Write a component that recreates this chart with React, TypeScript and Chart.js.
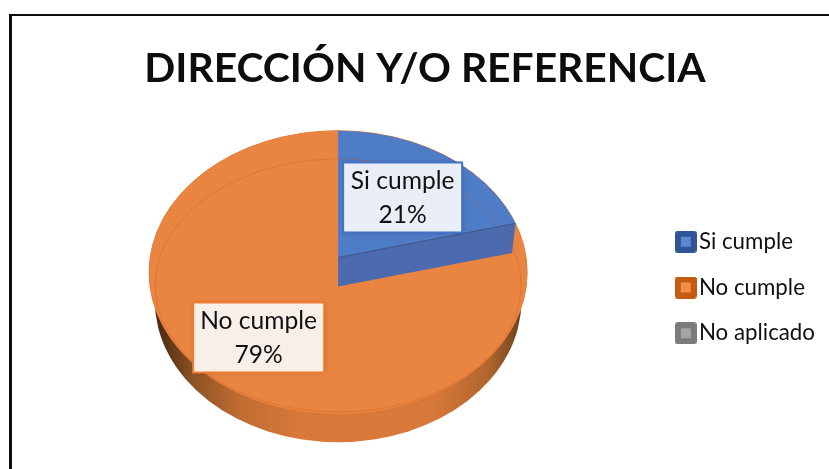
import React, { useEffect, useRef } from "react";
import { Chart, registerables } from "chart.js";

Chart.register(...registerables);

const TITLE = "DIRECCIÓN Y/O REFERENCIA";
const categories = ["Si cumple", "No cumple", "No aplicado"];
const values = [21, 79, 0];
const faceColors = ["#4f7cc7", "#ea8441", "#a5a5a5"];
const legendBorders = ["#2f5597", "#c55a11", "#7b7b7b"];
const legendFills = ["#5b86d0", "#f08f4a", "#a5a5a5"];
const FONT = "Lato, Carlito, 'Open Sans', sans-serif";

const squash = 0.75;

function legendMarker(border: string, fill: string) {
  const c = document.createElement("canvas");
  c.width = 22;
  c.height = 22;
  const g = c.getContext("2d")!;
  g.fillStyle = border;
  g.beginPath();
  g.roundRect(0, 0, 22, 22, 3);
  g.fill();
  g.fillStyle = fill;
  g.fillRect(6, 6, 10, 10);
  return c;
}

const pie3d = {
  id: "pie3d",
  afterLayout(chart: any) {
    chart.titleBlock.left += 4.5;
    chart.titleBlock.right += 4.5;
    chart.legend.top += 65;
    chart.legend.bottom += 65;
  },
  beforeDatasetsDraw(chart: any) {
    const ctx: CanvasRenderingContext2D = chart.ctx;
    const arcs = chart.getDatasetMeta(0).data;
    const blue = arcs[0];
    const orange = arcs[1];
    const cx = blue.x;
    const cy = blue.y;
    const r = blue.outerRadius;
    const b = r * squash;

    // extruded side
    const grad = ctx.createLinearGradient(cx - r, 0, cx + r, 0);
    grad.addColorStop(0, "#3f2410");
    grad.addColorStop(0.05, "#5e3517");
    grad.addColorStop(0.12, "#8f5325");
    grad.addColorStop(0.24, "#c06d31");
    grad.addColorStop(0.4, "#d8793a");
    grad.addColorStop(0.75, "#d8793a");
    grad.addColorStop(0.9, "#b0652d");
    grad.addColorStop(0.97, "#7a481f");
    grad.addColorStop(1, "#5e3517");
    ctx.save();
    ctx.fillStyle = grad;
    ctx.beginPath();
    ctx.ellipse(cx, cy + 28, r * 0.97, b, 0, 0, Math.PI * 2);
    ctx.fill();
    ctx.restore();

    // top plate
    ctx.save();
    ctx.fillStyle = faceColors[1];
    ctx.strokeStyle = "#d87531";
    ctx.lineWidth = 1;
    ctx.beginPath();
    ctx.ellipse(cx, cy, r, b, 0, 0, Math.PI * 2);
    ctx.fill();
    ctx.stroke();
    ctx.restore();

    const drawArc = (arc: any, dy: number) => {
      ctx.save();
      ctx.translate(cx, cy + dy);
      ctx.scale(1, squash);
      ctx.translate(-cx, -cy);
      arc.draw(ctx);
      ctx.restore();
    };

    drawArc(orange, 0);

    // raised wedge: side wall then face, both follow the arc's end angle
    const end = blue.endAngle;
    const dx = Math.cos(end);
    const dyy = Math.sin(end) * squash;
    const faceY = cy - 15;
    const sideY = cy + 14;
    ctx.save();
    ctx.beginPath();
    ctx.ellipse(cx, cy, r, b, 0, 0, Math.PI * 2);
    ctx.clip();
    ctx.fillStyle = "#4b6bae";
    ctx.beginPath();
    ctx.moveTo(cx, faceY);
    ctx.lineTo(cx + dx * r * 0.97, faceY + dyy * r * 0.97);
    ctx.lineTo(cx + dx * r * 0.95, sideY + dyy * r * 0.95);
    ctx.lineTo(cx, sideY);
    ctx.closePath();
    ctx.fill();
    drawArc(blue, faceY - cy);
    ctx.strokeStyle = "rgba(50,70,120,.7)";
    ctx.lineWidth = 1;
    ctx.beginPath();
    ctx.moveTo(cx, faceY);
    ctx.lineTo(cx + dx * r * 0.97, faceY + dyy * r * 0.97);
    ctx.stroke();
    ctx.restore();

    // faint bevel ring
    ctx.save();
    ctx.strokeStyle = "rgba(190,85,20,.3)";
    ctx.lineWidth = 1;
    ctx.beginPath();
    ctx.ellipse(cx, cy + 13, r * 0.968, b * 0.893, 0, 0, Math.PI * 2);
    ctx.stroke();
    ctx.restore();
    return false;
  },
  afterDraw(chart: any) {
    const ctx: CanvasRenderingContext2D = chart.ctx;
    const arcs = chart.getDatasetMeta(0).data;
    const total = values.reduce((a, v) => a + v, 0);
    const layouts = [
      { dx: 64.5, dy: -75, w: 119, h: 70 },
      { dx: -79.5, dy: 65, w: 131, h: 70 },
    ];
    layouts.forEach((l, i) => {
      const x = arcs[0].x + l.dx;
      const y = arcs[0].y + l.dy;
      ctx.save();
      ctx.shadowColor = "rgba(0,0,0,.22)";
      ctx.shadowBlur = 5;
      ctx.shadowOffsetX = 1;
      ctx.shadowOffsetY = 1;
      ctx.fillStyle = i === 0 ? "#e9eef7" : "#f9efe9";
      ctx.fillRect(x - l.w / 2, y - l.h / 2, l.w, l.h);
      ctx.restore();
      ctx.save();
      ctx.strokeStyle = i === 0 ? "#4472c4" : "#ed7d31";
      ctx.lineWidth = 2;
      ctx.strokeRect(x - l.w / 2, y - l.h / 2, l.w, l.h);
      ctx.fillStyle = "#111";
      ctx.font = `24.6px ${FONT}`;
      ctx.textAlign = "center";
      ctx.textBaseline = "middle";
      ctx.fillText(categories[i], x, y - 16);
      ctx.fillText(`${Math.round((values[i] / total) * 100)}%`, x, y + 18);
      ctx.restore();
    });
  },
};

export default function App() {
  const ref = useRef<HTMLCanvasElement>(null);
  useEffect(() => {
    const chart = new Chart(ref.current!, {
      type: "pie",
      data: {
        labels: categories,
        datasets: [
          {
            data: values,
            backgroundColor: faceColors,
            borderWidth: 0,
            radius: 189,
            clip: false,
          } as any,
        ],
      },
      options: {
        responsive: false,
        animation: false,
        layout: { padding: { top: 0, right: 4, bottom: 24, left: 16 } },
        plugins: {
          tooltip: { enabled: false },
          title: {
            display: true,
            text: TITLE,
            color: "#0d0d0d",
            font: { family: FONT, size: 40.8, weight: "bold" },
            padding: { top: 44, bottom: 7 },
          },
          legend: {
            position: "right",
            labels: {
              usePointStyle: true,
              pointStyleWidth: 4,
              font: { family: FONT, size: 22.3 },
              color: "#111",
              padding: 23.5,
              generateLabels: () =>
                categories.map((text, i) => ({
                  text,
                  index: i,
                  fontColor: "#111",
                  pointStyle: legendMarker(legendBorders[i], legendFills[i]),
                  hidden: false,
                  lineWidth: 0,
                })),
            },
          },
        },
      },
      plugins: [pie3d],
    } as any);
    return () => chart.destroy();
  }, []);
  return (
    <div style={{ position: "fixed", left: 0, top: 0, width: 829, height: 469, background: "#fff", overflow: "hidden" }}>
      <canvas ref={ref} width={829} height={469} style={{ display: "block" }} />
      <div
        style={{
          position: "absolute",
          left: 9,
          top: 14,
          width: 830,
          height: 470,
          borderLeft: "3px solid #0d0d0d",
          borderTop: "2px solid #0d0d0d",
          pointerEvents: "none",
        }}
      />
    </div>
  );
}
